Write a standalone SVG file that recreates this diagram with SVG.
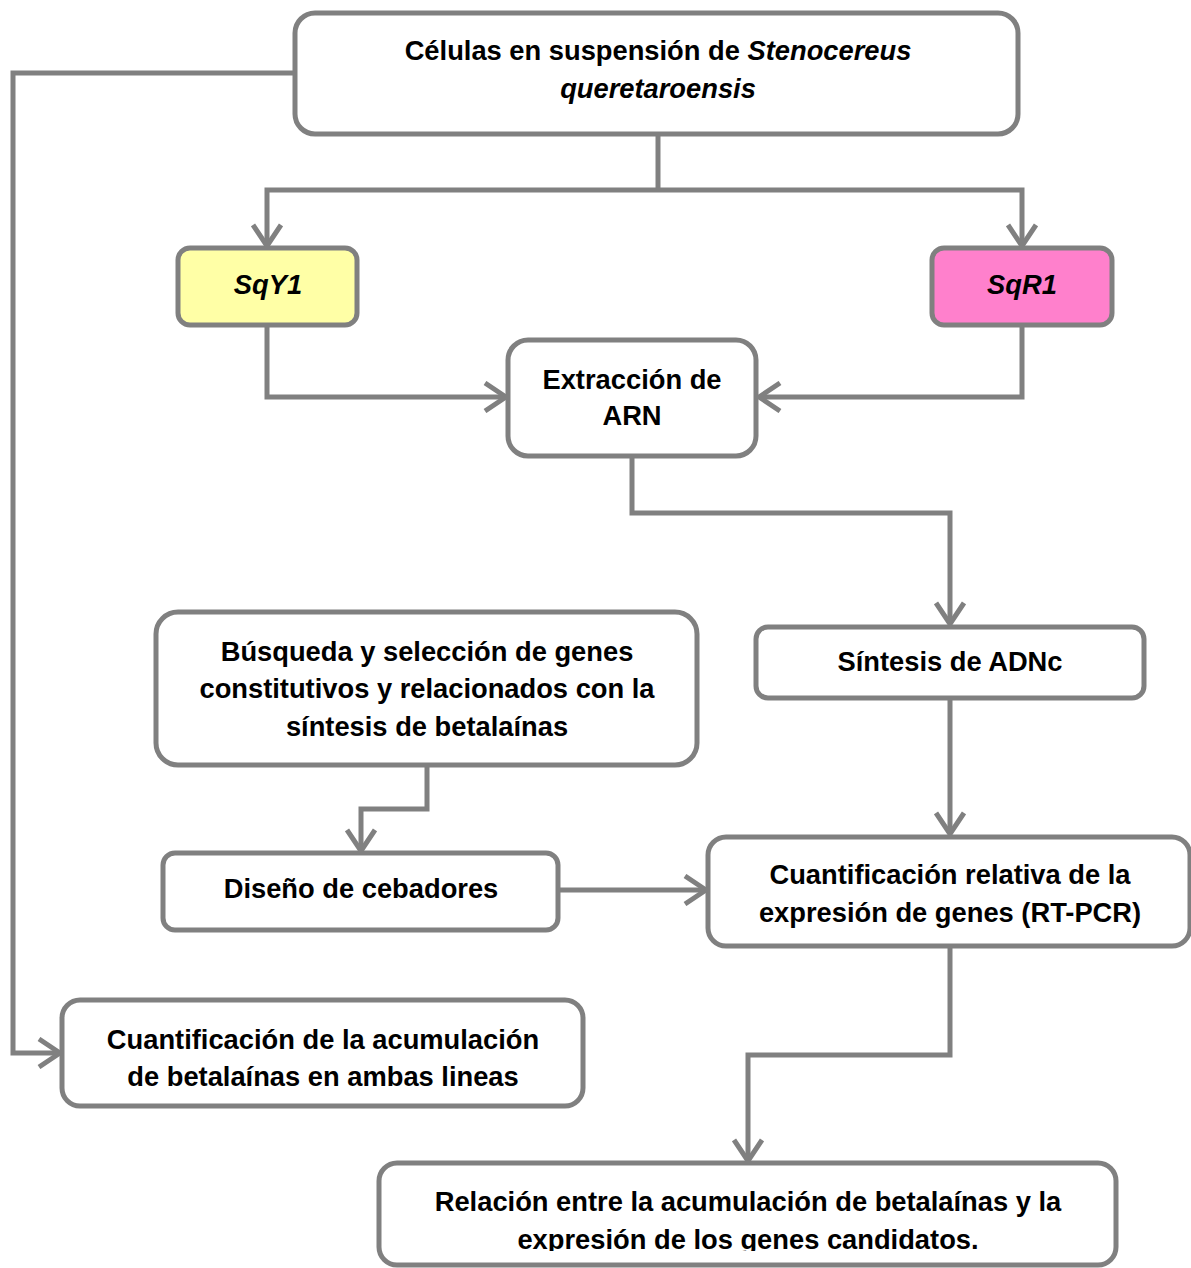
<svg xmlns="http://www.w3.org/2000/svg" width="1191" height="1268" viewBox="0 0 1191 1268">
<style>
.box{fill:#ffffff;stroke:#808080;stroke-width:5}
.yel{fill:#ffffa6;stroke:#808080;stroke-width:5}
.pink{fill:#ff80cc;stroke:#808080;stroke-width:5}
.t{font-family:"Liberation Sans",Arial,sans-serif;font-weight:bold;font-size:27.3px;fill:#000;text-anchor:middle}
.i{font-style:italic}
.c{fill:none;stroke:#808080;stroke-width:5;stroke-linejoin:miter}
</style>
<defs>
<marker id="ah" viewBox="-24 -16 28 32" markerWidth="28" markerHeight="32" refX="0" refY="0" orient="auto" markerUnits="userSpaceOnUse">
<path d="M-21,-14 L0,0 L-21,14" fill="none" stroke="#808080" stroke-width="5"/>
</marker>
<clipPath id="clipBottom"><rect x="0" y="0" width="1191" height="1251"/></clipPath>
</defs>
<rect width="1191" height="1268" fill="#ffffff"/>

<g id="connectors">
<path class="c" d="M295,73 H13 V1053 H60" marker-end="url(#ah)"/>
<path class="c" d="M658,134 V190"/>
<path class="c" d="M658,190 H267 V246" marker-end="url(#ah)"/>
<path class="c" d="M658,190 H1022 V246" marker-end="url(#ah)"/>
<path class="c" d="M267,325 V397 H506" marker-end="url(#ah)"/>
<path class="c" d="M1022,325 V397 H759" marker-end="url(#ah)"/>
<path class="c" d="M632,456 V513 H950 V624" marker-end="url(#ah)"/>
<path class="c" d="M950,698 V834" marker-end="url(#ah)"/>
<path class="c" d="M427,765 V809 H361 V851" marker-end="url(#ah)"/>
<path class="c" d="M558,890 H706" marker-end="url(#ah)"/>
<path class="c" d="M950,946 V1055 H748 V1161" marker-end="url(#ah)"/>
</g>

<g id="n-celulas">
<rect class="box" x="295" y="13" width="723" height="121" rx="20"/>
<text class="t" x="658" y="60">Células en suspensión de <tspan class="i">Stenocereus</tspan></text>
<text class="t i" x="658" y="98">queretaroensis</text>
</g>

<g id="n-sqy1">
<rect class="yel" x="178" y="248" width="179" height="77" rx="12"/>
<text class="t i" x="268" y="294">SqY1</text>
</g>

<g id="n-sqr1">
<rect class="pink" x="932" y="248" width="180" height="77" rx="12"/>
<text class="t i" x="1022" y="294">SqR1</text>
</g>

<g id="n-extraccion">
<rect class="box" x="508" y="340" width="248" height="116" rx="20"/>
<text class="t" x="632" y="389">Extracción de</text>
<text class="t" x="632" y="425">ARN</text>
</g>

<g id="n-sintesis">
<rect class="box" x="756" y="627" width="388" height="71" rx="12"/>
<text class="t" x="950" y="671">Síntesis de ADNc</text>
</g>

<g id="n-busqueda">
<rect class="box" x="156" y="612" width="541" height="153" rx="22"/>
<text class="t" x="427" y="661">Búsqueda y selección de genes</text>
<text class="t" x="427" y="698">constitutivos y relacionados con la</text>
<text class="t" x="427" y="736">síntesis de betalaínas</text>
</g>

<g id="n-diseno">
<rect class="box" x="163" y="853" width="395" height="77" rx="12"/>
<text class="t" x="361" y="898">Diseño de cebadores</text>
</g>

<g id="n-cuantrel">
<rect class="box" x="708" y="837" width="482" height="109" rx="18"/>
<text class="t" x="950" y="884">Cuantificación relativa de la</text>
<text class="t" x="950" y="922">expresión de genes (RT-PCR)</text>
</g>

<g id="n-cuantacum">
<rect class="box" x="62" y="1000" width="521" height="106" rx="18"/>
<text class="t" x="323" y="1049">Cuantificación de la acumulación</text>
<text class="t" x="323" y="1086">de betalaínas en ambas lineas</text>
</g>

<g id="n-relacion">
<rect class="box" x="379" y="1163" width="737" height="102" rx="18"/>
<text class="t" x="748" y="1211">Relación entre la acumulación de betalaínas y la</text>
<text class="t" x="748" y="1249" clip-path="url(#clipBottom)">expresión de los genes candidatos.</text>
</g>
</svg>
